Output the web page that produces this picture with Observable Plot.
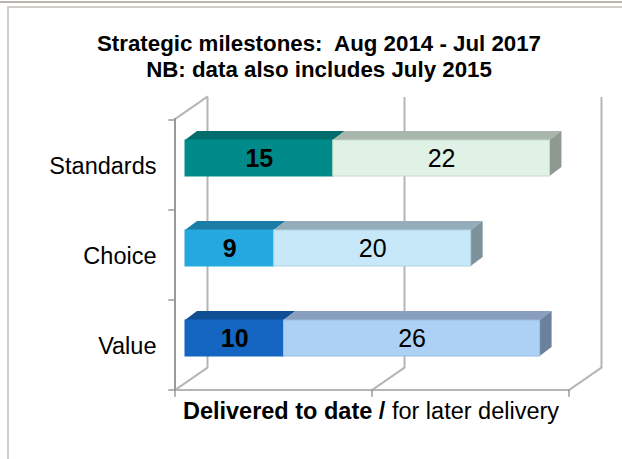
<!DOCTYPE html>
<html>
<head>
<meta charset="utf-8">
<script src="https://cdn.jsdelivr.net/npm/d3@7"></script>
<script src="https://cdn.jsdelivr.net/npm/@observablehq/plot@0.6"></script>
<style>
  body { margin: 0; background: #fff; font-family: Arial, "Liberation Sans", sans-serif; }
  #frame { position: relative; width: 622px; height: 459px; overflow: hidden; background: #fff; }
  #topline { position: absolute; left: 0; top: 1px; width: 622px; height: 2px; background: #bcb5ad; }
  #box { position: absolute; left: 7px; top: 6px; width: 660px; height: 500px;
         border-left: 2px solid #d3cdc7; border-top: 2px solid #d3cdc7; }
  #title { position: absolute; left: 16px; top: 31px; width: 606px; text-align: center;
           font-weight: bold; font-size: 22.3px; line-height: 26px; color: #000; }
  #chart { position: absolute; left: 0; top: 92px; }
  #caption { position: absolute; left: 120px; top: 397px; width: 502px; text-align: center;
             font-size: 23.5px; line-height: 28px; color: #000; white-space: nowrap; }
</style>
</head>
<body>
<div id="frame">
  <div id="topline"></div>
  <div id="box"></div>
  <div id="title">Strategic milestones:&nbsp; Aug 2014 - Jul 2017<br>NB: data also includes July 2015</div>
  <div id="chart"></div>
  <div id="caption"><b>Delivered to date /</b> for later delivery</div>
</div>
<script>
// ---- data ----
const categories = ["Standards", "Choice", "Value"];
const delivered = [15, 9, 10];
const later = [22, 20, 26];
const xTicks = [0, 20, 40];

// ---- styles ----
const frontDark = ["#008b8a", "#25a8e0", "#1565c2"];
const topDark = ["#006d6c", "#1b7ca6", "#104e94"];
const frontLight = ["#e0f1e6", "#c6e8f8", "#add0f5"];
const topLight = ["#a9b6ab", "#94adb8", "#889fbd"];
const sideLight = ["#8e9a90", "#7e929c", "#6c819d"];
const edgeLight = ["#c9dacf", "#b2d2e2", "#98bce6"];
const gridColor = "#b5b5b5";
const axisColor = "#9a9a9a";

// 3D projection offsets (pixels)
const WALL_DX = 32, WALL_DY = -22;   // depth of back wall
const BAR_DX = 10, BAR_DY = -7;      // front face of bars
const DEPTH_DX = 12, DEPTH_DY = -9;  // bar depth

const rows = categories.flatMap((c, i) => [
  {cat: c, i, part: "delivered", x1: 0, x2: delivered[i], value: delivered[i]},
  {cat: c, i, part: "later", x1: delivered[i], x2: delivered[i] + later[i], value: later[i]}
]);

// frame lines: floor, left wall, ticks
function frameLines(index, scales, values, dims) {
  const {x, y} = scales;
  const bw = y.bandwidth();
  const step = y.step();
  const gap = (step - bw) / 2;
  const top = dims.marginTop, bottom = dims.height - dims.marginBottom;
  const g = d3.create("svg:g").attr("fill", "none").attr("stroke-linecap", "square");
  for (const t of xTicks) {
    g.append("line").attr("x1", x(t)).attr("y1", bottom)
      .attr("x2", x(t) + WALL_DX).attr("y2", bottom + WALL_DY)
      .attr("stroke", gridColor).attr("stroke-width", 2);
  }
  g.append("line").attr("x1", x(0)).attr("y1", top)
    .attr("x2", x(0) + WALL_DX).attr("y2", top + WALL_DY)
    .attr("stroke", gridColor).attr("stroke-width", 2);
  g.append("line").attr("x1", x(0)).attr("y1", bottom)
    .attr("x2", x(xTicks[xTicks.length - 1])).attr("y2", bottom)
    .attr("stroke", gridColor).attr("stroke-width", 2);
  g.append("line").attr("x1", x(0)).attr("y1", top)
    .attr("x2", x(0)).attr("y2", bottom)
    .attr("stroke", axisColor).attr("stroke-width", 2);
  const bounds = categories.map(c => y(c) - gap);
  bounds.push(y(categories[categories.length - 1]) + bw + gap);
  for (const b of bounds) {
    g.append("line").attr("x1", x(0) - 6).attr("y1", b).attr("x2", x(0)).attr("y2", b)
      .attr("stroke", axisColor).attr("stroke-width", 1.5);
  }
  for (const t of xTicks) {
    g.append("line").attr("x1", x(t)).attr("y1", bottom).attr("x2", x(t)).attr("y2", bottom + 6)
      .attr("stroke", axisColor).attr("stroke-width", 1.5);
  }
  return g.node();
}

// top and side faces of the bars
function barFaces(index, scales, values, dims) {
  const {x, y} = scales;
  const bw = y.bandwidth();
  const g = d3.create("svg:g");
  for (const r of rows) {
    const X1 = x(r.x1) + BAR_DX, X2 = x(r.x2) + BAR_DX, Y = y(r.cat) + BAR_DY;
    g.append("path")
      .attr("d", `M${X1},${Y}L${X2},${Y}L${X2 + DEPTH_DX},${Y + DEPTH_DY}L${X1 + DEPTH_DX},${Y + DEPTH_DY}Z`)
      .attr("fill", r.part === "delivered" ? topDark[r.i] : topLight[r.i]);
    if (r.part === "later") {
      g.append("path")
        .attr("d", `M${X2},${Y}L${X2 + DEPTH_DX},${Y + DEPTH_DY}L${X2 + DEPTH_DX},${Y + bw + DEPTH_DY}L${X2},${Y + bw}Z`)
        .attr("fill", sideLight[r.i]);
    }
  }
  return g.node();
}

const chart = Plot.plot({
  width: 622,
  height: 308,
  marginLeft: 175,
  marginRight: 53,
  marginTop: 27,
  marginBottom: 10,
  style: {fontFamily: "Arial, 'Liberation Sans', sans-serif", overflow: "visible", background: "transparent"},
  x: {domain: [0, 40], axis: null},
  y: {domain: categories, paddingInner: 0.6, paddingOuter: 0.3, axis: null},
  marks: [
    Plot.ruleX(xTicks, {dx: WALL_DX, dy: WALL_DY, stroke: gridColor, strokeWidth: 2}),
    frameLines,
    barFaces,
    Plot.barX(rows, {
      x1: "x1", x2: "x2", y: "cat", dx: BAR_DX, dy: BAR_DY,
      fill: d => d.part === "delivered" ? frontDark[d.i] : frontLight[d.i],
      stroke: d => d.part === "delivered" ? frontDark[d.i] : edgeLight[d.i],
      strokeWidth: 1, inset: 0
    }),
    Plot.text(rows.filter(d => d.part === "delivered"), {
      x: d => (d.x1 + d.x2) / 2, y: "cat", text: d => String(d.value),
      dx: BAR_DX, dy: BAR_DY, fontSize: 25, fontWeight: "bold", fill: "#000"
    }),
    Plot.text(rows.filter(d => d.part === "later"), {
      x: d => (d.x1 + d.x2) / 2, y: "cat", text: d => String(d.value),
      dx: BAR_DX, dy: BAR_DY, fontSize: 25, fill: "#000"
    }),
    Plot.text(categories, {
      y: d => d, text: d => d, frameAnchor: "left", textAnchor: "end",
      dx: -19, dy: 1, fontSize: 23.5, fill: "#000"
    })
  ]
});
document.getElementById("chart").appendChild(chart);
</script>
</body>
</html>
